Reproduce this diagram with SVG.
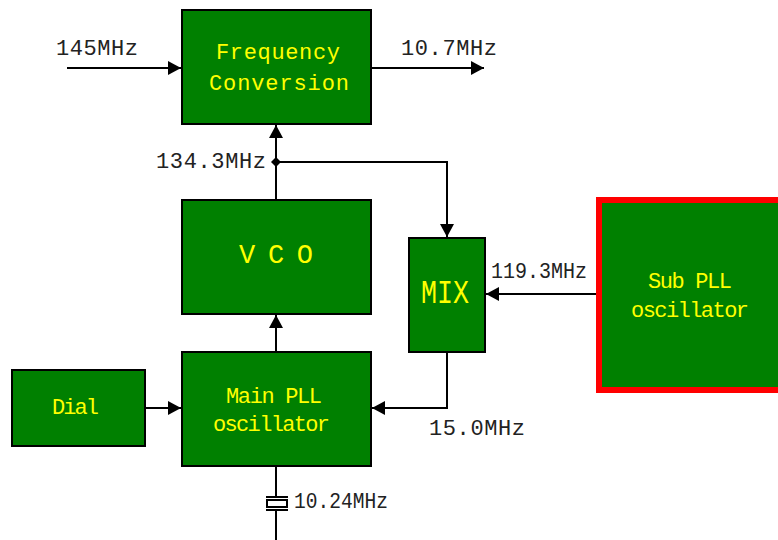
<svg xmlns="http://www.w3.org/2000/svg" width="778" height="540" viewBox="0 0 778 540">
<style>
.b{fill:#008000;stroke:#000;stroke-width:2}
.t{font-family:"Liberation Mono","DejaVu Sans Mono",monospace;font-size:22px;fill:#222;text-anchor:start}
.y{fill:#ffff00}
.c{fill:none;stroke:#000;stroke-width:2}
</style>
<defs>
<marker id="a" markerUnits="userSpaceOnUse" markerWidth="14" markerHeight="14" refX="13" refY="7" orient="auto"><path d="M0 0L13 7L0 14Z" fill="#000"/></marker>
</defs>
<rect width="778" height="540" fill="#fff"/>
<g id="connectors">
<path class="c" d="M67 68H181" marker-end="url(#a)"/>
<path class="c" d="M371 68H484" marker-end="url(#a)"/>
<path class="c" d="M276 200V125" marker-end="url(#a)"/>
<path class="c" d="M276 162H447V237" marker-end="url(#a)"/>
<path d="M276 157L281 162L276 167L271 162Z" fill="#000"/>
<path class="c" d="M276 352V315" marker-end="url(#a)"/>
<path class="c" d="M145 408H181" marker-end="url(#a)"/>
<path class="c" d="M447 352V408H372" marker-end="url(#a)"/>
<path class="c" d="M597 294H486" marker-end="url(#a)"/>
<path class="c" d="M276 466V497M276 510V540"/>
<path class="c" d="M266 497H288M266 510H288"/>
<rect class="c" x="267" y="500" width="20" height="7" fill="#fff"/>
</g>
<g id="frequency"><rect class="b" x="182" y="10" width="189" height="114"/>
<text class="t y" x="216" y="59" textLength="124">Frequency</text>
<text class="t y" x="209" y="90" textLength="140">Conversion</text></g>
<g id="vco"><rect class="b" x="182" y="200" width="189" height="114"/>
<text class="t y" x="239" y="263" font-size="27" style="font-size:27px" textLength="74">VCO</text></g>
<g id="mainpll"><rect class="b" x="182" y="352" width="189" height="114"/>
<text class="t y" x="226" y="403" textLength="96">Main PLL</text>
<text class="t y" x="213" y="431" textLength="117">oscillator</text></g>
<g id="dial"><rect class="b" x="12" y="370" width="133" height="76"/>
<text class="t y" x="52" y="414" textLength="47">Dial</text></g>
<g id="mix"><rect class="b" x="409" y="238" width="76" height="114"/>
<text class="t y" x="421" y="303" style="font-size:33px" textLength="48" lengthAdjust="spacingAndGlyphs">MIX</text></g>
<g id="subpll"><rect x="599" y="200" width="190" height="190" fill="#008000" stroke="#ff0000" stroke-width="6"/>
<text class="t y" x="648" y="288" textLength="84">Sub PLL</text>
<text class="t y" x="631" y="317" textLength="118">oscillator</text></g>
<g id="labels">
<text class="t" x="56" y="55" textLength="82">145MHz</text>
<text class="t" x="401" y="55" textLength="96">10.7MHz</text>
<text class="t" x="156" y="168" textLength="110">134.3MHz</text>
<text class="t" x="491" y="278" textLength="96" lengthAdjust="spacingAndGlyphs">119.3MHz</text>
<text class="t" x="429" y="435" textLength="96">15.0MHz</text>
<text class="t" x="294" y="508" textLength="94" lengthAdjust="spacingAndGlyphs">10.24MHz</text>
</g>
</svg>
